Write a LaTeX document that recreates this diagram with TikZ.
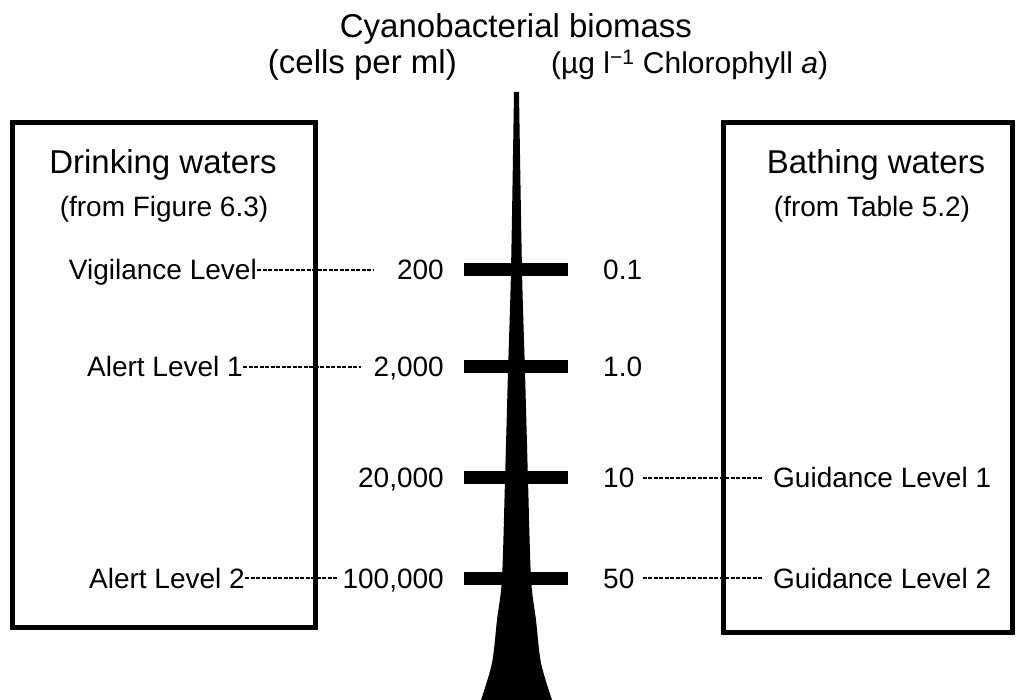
\documentclass[tikz,border=0pt]{standalone}
\usepackage{fontspec}
\setmainfont{Liberation Sans}
\usetikzlibrary{positioning}

\begin{document}
\begin{tikzpicture}[x=1pt, y=-1pt,
  big/.style={font=\fontsize{33}{38}\selectfont, inner sep=0pt},
  lbl/.style={font=\fontsize{28}{32}\selectfont, inner sep=0pt, text height=20pt, text depth=0pt},
  panel/.style={line width=5pt},
  bar/.style={fill=black, inner sep=0pt, minimum width=104pt, minimum height=13pt},
  dots/.style={line width=2.5pt, dash pattern=on 4pt off 1.5pt}
]
\useasboundingbox (0,0) rectangle (1018,700);

\node[big] (title) at (516,29) {Cyanobacterial biomass};
\node[big, anchor=east] (cells) at (457,65) {(cells per ml)};
\node[big, anchor=west, font=\fontsize{30}{36}\selectfont] (chla) at (551,65) {(µg l\textsuperscript{−1} Chlorophyll \textit{a})};

\draw[panel] (12,123) rectangle (315,627);
\draw[panel] (723,123) rectangle (1012,632);

\node[big] (drink) at (163,165) {Drinking waters};
\node[lbl] (drinksrc) at (164,207) {(from Figure 6.3)};
\node[big] (bath) at (876,165) {Bathing waters};
\node[lbl] (bathsrc) at (872,207) {(from Table 5.2)};

\fill plot[smooth, tension=0.5] coordinates {(481,700) (492,663) (497,620) (502,578) (505,480) (508,372) (511,270) (514,92)}
  -- plot[smooth, tension=0.5] coordinates {(519,92) (522,270) (525,372) (528,480) (531,578) (536,620) (541,663) (552,700)}
  -- cycle;

\node[bar] (b200) at (516,270) {};
\node[bar] (b2k) at (516,367) {};
\node[bar] (b20k) at (516,478) {};
\node[bar] (b100k) at (516,578) {};

\node[lbl, anchor=east] (n200) at (444,270) {200};
\node[lbl, anchor=east] (n2k) at (444,367) {2,000};
\node[lbl, anchor=east] (n20k) at (444,478) {20,000};
\node[lbl, anchor=east] (n100k) at (444,578) {100,000};

\node[lbl, anchor=west] (c01) at (603,270) {0.1};
\node[lbl, anchor=west] (c1) at (603,367) {1.0};
\node[lbl, anchor=west] (c10) at (603,478) {10};
\node[lbl, anchor=west] (c50) at (603,578) {50};

\node[lbl, anchor=east] (vig) at (257,270) {Vigilance Level};
\node[lbl, anchor=east] (al1) at (243,367) {Alert Level 1};
\node[lbl, anchor=east] (al2) at (245,578) {Alert Level 2};
\node[lbl, anchor=west] (gl1) at (773,478) {Guidance Level 1};
\node[lbl, anchor=west] (gl2) at (773,578) {Guidance Level 2};

\draw[dots, shorten >=24pt] (vig) -- (n200);
\draw[dots, shorten >=13pt] (al1) -- (n2k);
\draw[dots, shorten >=4pt] (al2) -- (n100k);
\draw[dots, shorten <=8pt, shorten >=10pt] (c10) -- (gl1);
\draw[dots, shorten <=8pt, shorten >=10pt] (c50) -- (gl2);
\end{tikzpicture}
\end{document}
